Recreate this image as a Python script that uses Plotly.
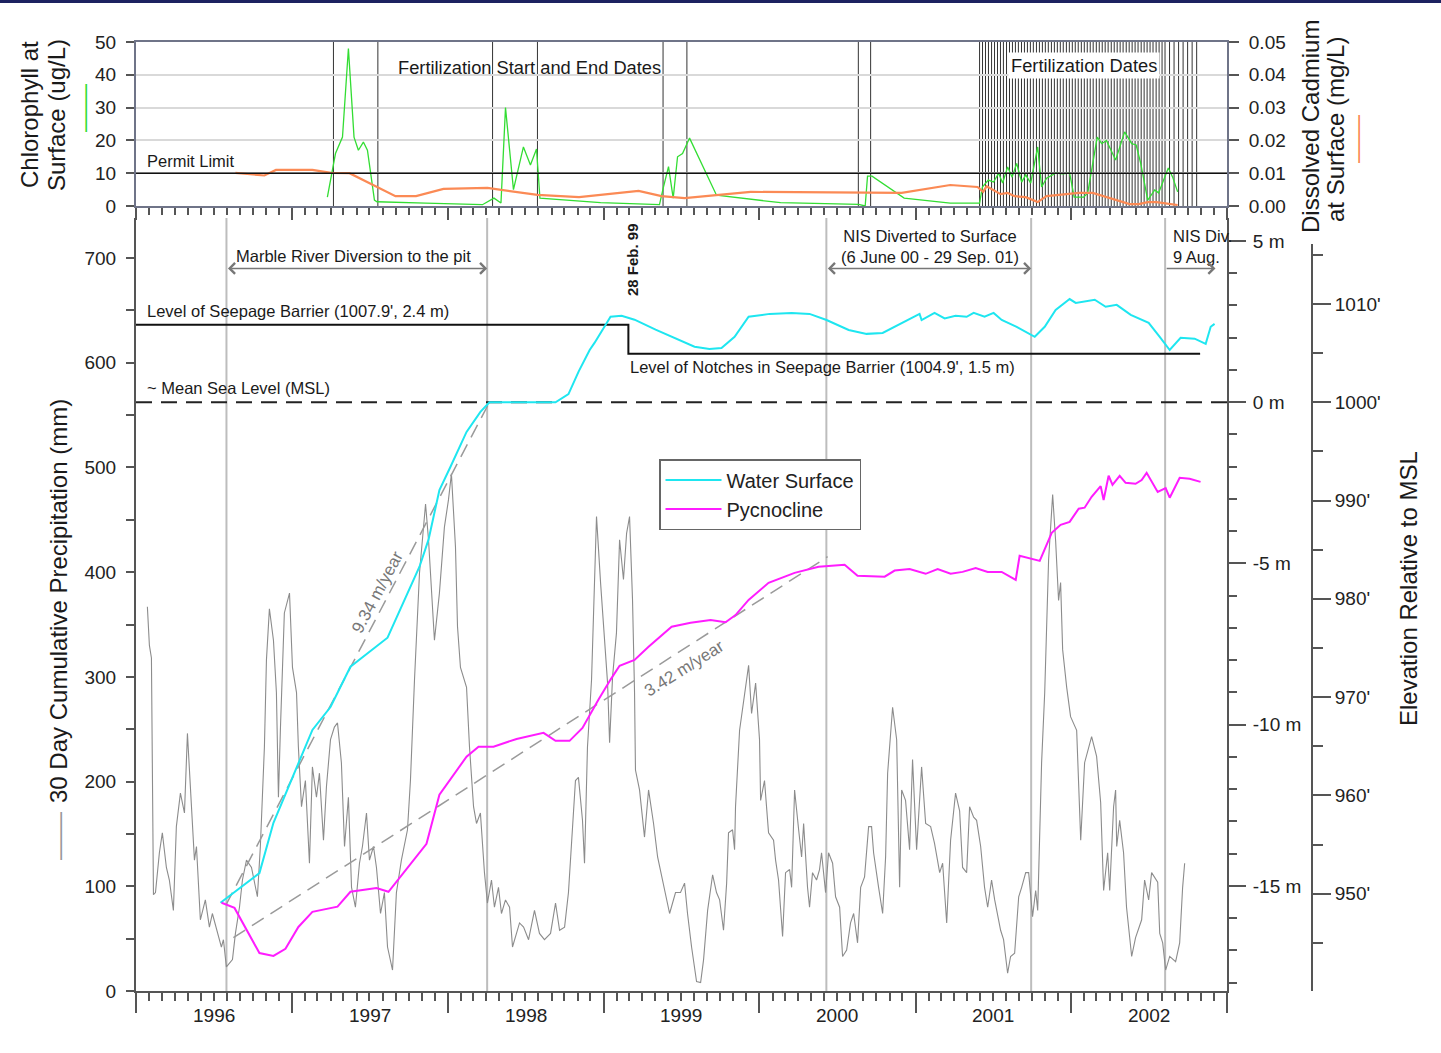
import pandas as pd
import plotly.graph_objects as go

# ======================= DATA =======================
YEAR_LABELS = ["1996", "1997", "1998", "1999", "2000", "2001", "2002"]

# all "_T" arrays: time in years since 1 Jan 1996
PRECIP_T = [0.073, 0.086, 0.099, 0.112, 0.125, 0.150, 0.169, 0.195, 0.214, 0.240, 0.259, 0.285, 0.311, 0.330,
            0.356, 0.375, 0.388, 0.413, 0.445, 0.471, 0.490, 0.522, 0.548, 0.561, 0.580, 0.619, 0.638, 0.664,
            0.683, 0.709, 0.741, 0.779, 0.798, 0.824, 0.837, 0.856, 0.882, 0.901, 0.914, 0.927, 0.952, 0.985,
            1.004, 1.030, 1.042, 1.062, 1.087, 1.113, 1.132, 1.158, 1.177, 1.203, 1.222, 1.248, 1.273, 1.293,
            1.318, 1.338, 1.363, 1.383, 1.408, 1.434, 1.453, 1.479, 1.498, 1.524, 1.543, 1.569, 1.594, 1.614,
            1.646, 1.671, 1.703, 1.742, 1.761, 1.787, 1.800, 1.819, 1.858, 1.877, 1.915, 1.947, 1.979, 2.005,
            2.024, 2.050, 2.063, 2.082, 2.121, 2.140, 2.166, 2.185, 2.210, 2.236, 2.255, 2.281, 2.300, 2.326,
            2.345, 2.371, 2.397, 2.416, 2.461, 2.487, 2.519, 2.557, 2.589, 2.621, 2.660, 2.692, 2.718, 2.750,
            2.775, 2.795, 2.820, 2.839, 2.865, 2.878, 2.897, 2.923, 2.942, 2.955, 2.981, 3.000, 3.026, 3.039,
            3.058, 3.083, 3.103, 3.128, 3.148, 3.167, 3.186, 3.199, 3.205, 3.231, 3.263, 3.289, 3.321, 3.347,
            3.379, 3.424, 3.462, 3.494, 3.520, 3.539, 3.565, 3.597, 3.623, 3.642, 3.668, 3.700, 3.725, 3.745,
            3.770, 3.790, 3.802, 3.828, 3.841, 3.847, 3.873, 3.892, 3.918, 3.931, 3.950, 3.976, 4.001, 4.008,
            4.033, 4.059, 4.091, 4.104, 4.123, 4.149, 4.168, 4.194, 4.207, 4.226, 4.252, 4.271, 4.284, 4.309,
            4.322, 4.341, 4.367, 4.386, 4.399, 4.425, 4.444, 4.470, 4.489, 4.515, 4.534, 4.560, 4.585, 4.605,
            4.630, 4.650, 4.675, 4.701, 4.720, 4.733, 4.765, 4.791, 4.810, 4.823, 4.855, 4.881, 4.900, 4.913,
            4.938, 4.964, 4.983, 5.009, 5.041, 5.067, 5.099, 5.124, 5.157, 5.176, 5.202, 5.227, 5.259, 5.285,
            5.304, 5.330, 5.349, 5.375, 5.394, 5.420, 5.445, 5.465, 5.490, 5.510, 5.548, 5.567, 5.593, 5.612,
            5.638, 5.664, 5.683, 5.709, 5.728, 5.753, 5.773, 5.786, 5.811, 5.831, 5.856, 5.882, 5.901, 5.920,
            5.933, 5.946, 5.972, 5.997, 6.036, 6.062, 6.087, 6.132, 6.164, 6.190, 6.209, 6.235, 6.248, 6.273,
            6.286, 6.293, 6.312, 6.337, 6.356, 6.389, 6.414, 6.453, 6.472, 6.498, 6.517, 6.556, 6.569, 6.588,
            6.607, 6.633, 6.671, 6.697, 6.716, 6.729]
PRECIP_MM = [367, 330, 318, 92, 94, 132, 151, 118, 106, 77, 157, 189, 170, 246,
             176, 125, 138, 68, 87, 61, 74, 55, 42, 49, 23, 30, 55, 80,
             106, 125, 118, 90, 138, 233, 316, 365, 335, 285, 185, 252, 361, 380,
             309, 285, 233, 176, 201, 122, 214, 185, 208, 144, 195, 240, 252, 256,
             218, 138, 185, 99, 80, 122, 138, 170, 125, 138, 118, 74, 94, 42,
             20, 94, 125, 154, 201, 297, 342, 399, 465, 431, 335, 380, 443, 469,
             494, 424, 348, 309, 290, 233, 176, 160, 170, 113, 84, 106, 80, 99,
             74, 87, 80, 42, 65, 61, 49, 77, 55, 49, 55, 84, 58, 61,
             94, 138, 201, 204, 163, 122, 233, 297, 405, 453, 390, 345, 294, 237,
             300, 342, 431, 393, 437, 453, 374, 285, 211, 192, 147, 192, 160, 128,
             106, 74, 94, 94, 103, 74, 42, 9, 8, 30, 77, 111, 94, 87,
             58, 103, 151, 154, 135, 176, 249, 268, 297, 311, 265, 294, 240, 182,
             201, 151, 144, 125, 106, 52, 113, 116, 99, 192, 154, 128, 160, 99,
             80, 113, 106, 116, 132, 94, 132, 122, 90, 80, 33, 39, 65, 74,
             46, 99, 109, 157, 157, 132, 99, 74, 128, 208, 271, 240, 99, 192,
             182, 135, 221, 135, 214, 160, 157, 141, 113, 122, 65, 144, 189, 172,
             118, 113, 176, 166, 163, 138, 99, 80, 106, 87, 58, 49, 17, 33,
             36, 90, 99, 113, 113, 71, 96, 77, 218, 285, 412, 474, 430, 373,
             390, 326, 290, 262, 249, 144, 218, 243, 224, 180, 96, 132, 96, 176,
             192, 138, 163, 132, 80, 33, 51, 68, 106, 87, 113, 104, 55, 46,
             20, 33, 28, 46, 99, 122]

WATER_T = [0.542, 0.792, 0.882, 0.997, 1.087, 1.132, 1.248, 1.338, 1.376, 1.614, 1.703, 1.819, 1.877,
           1.947, 2.018, 2.121, 2.210, 2.268, 2.692, 2.775, 2.840, 2.911, 2.942, 3.045, 3.116, 3.199,
           3.334, 3.449, 3.584, 3.680, 3.757, 3.841, 3.931, 4.066, 4.207, 4.322, 4.431, 4.573, 4.688,
           4.791, 4.913, 5.028, 5.041, 5.124, 5.189, 5.259, 5.330, 5.375, 5.445, 5.503, 5.555, 5.651,
           5.767, 5.831, 5.901, 5.991, 6.030, 6.152, 6.222, 6.293, 6.383, 6.498, 6.569, 6.633, 6.703,
           6.793, 6.864, 6.896, 6.921]
WATER_M = [-15.52, -14.60, -13.04, -11.70, -10.68, -10.16, -9.45, -8.60, -8.20, -7.30, -6.35, -5.10, -4.26,
           -2.72, -2.00, -0.92, -0.30, 0.00, 0.00, 0.25, 0.95, 1.62, 1.84, 2.65, 2.68, 2.56,
           2.25, 2.00, 1.72, 1.65, 1.68, 2.03, 2.65, 2.74, 2.77, 2.74, 2.55, 2.24, 2.12,
           2.15, 2.45, 2.74, 2.55, 2.77, 2.60, 2.68, 2.65, 2.77, 2.65, 2.77, 2.55, 2.34,
           2.03, 2.34, 2.86, 3.20, 3.08, 3.18, 2.96, 3.02, 2.71, 2.46, 2.03, 1.62, 2.00,
           1.97, 1.81, 2.34, 2.43]

PYCNO_T = [0.549, 0.632, 0.792, 0.882, 0.959, 1.042, 1.132, 1.293, 1.376, 1.543, 1.620, 1.755, 1.864,
           1.947, 2.121, 2.198, 2.294, 2.442, 2.615, 2.692, 2.782, 2.865, 2.923, 2.968, 3.045, 3.103,
           3.199, 3.289, 3.437, 3.559, 3.687, 3.783, 3.847, 3.931, 4.059, 4.226, 4.380, 4.547, 4.630,
           4.804, 4.868, 4.964, 5.067, 5.144, 5.227, 5.304, 5.388, 5.465, 5.555, 5.645, 5.670, 5.799,
           5.876, 5.933, 5.991, 6.049, 6.087, 6.132, 6.190, 6.209, 6.241, 6.266, 6.312, 6.350, 6.414,
           6.453, 6.485, 6.556, 6.607, 6.633, 6.697, 6.761, 6.831]
PYCNO_M = [-15.52, -15.68, -17.08, -17.17, -16.95, -16.27, -15.80, -15.64, -15.18, -15.06, -15.18, -14.34, -13.69,
           -12.17, -10.99, -10.68, -10.68, -10.44, -10.25, -10.50, -10.50, -10.10, -9.60, -9.22, -8.60, -8.17,
           -7.99, -7.58, -6.96, -6.84, -6.75, -6.82, -6.60, -6.13, -5.60, -5.29, -5.10, -5.04, -5.38,
           -5.41, -5.22, -5.17, -5.32, -5.17, -5.32, -5.26, -5.14, -5.26, -5.26, -5.51, -4.76, -4.92,
           -4.05, -3.80, -3.71, -3.30, -3.27, -2.93, -2.60, -3.03, -2.28, -2.56, -2.28, -2.50, -2.53,
           -2.41, -2.19, -2.78, -2.66, -2.96, -2.34, -2.37, -2.47]

CHL_T = [1.228, 1.280, 1.325, 1.363, 1.399, 1.427, 1.459, 1.485, 1.530, 1.546, 1.858, 2.223, 2.297, 2.342,
         2.371, 2.422, 2.486, 2.531, 2.570, 2.592, 2.981, 3.359, 3.385, 3.417, 3.447, 3.475, 3.507, 3.552,
         3.725, 4.136, 4.637, 4.679, 4.694, 4.723, 4.929, 5.225, 5.413, 5.431, 5.469, 5.503, 5.535, 5.561,
         5.593, 5.622, 5.651, 5.683, 5.709, 5.741, 5.786, 5.811, 5.843, 5.901, 5.946, 5.991, 6.020, 6.081,
         6.107, 6.168, 6.197, 6.227, 6.286, 6.344, 6.389, 6.418, 6.447, 6.492, 6.537, 6.562, 6.624, 6.652,
         6.684]
CHL_UGL = [2.7, 16, 21, 48, 21, 17, 19.5, 17, 1.8, 1.3, 0.9, 0.4, 2.4, 0.9,
           30, 5, 18, 12.5, 17.4, 2.4, 1.0, 0.4, 5.8, 12, 2.4, 15, 16, 20.7,
           3.3, 1.0, 0.5, 0.0, 9.1, 9.1, 2.4, 0.9, 0.9, 5.8, 7.9, 7.3, 10, 7,
           11.9, 8.8, 13, 7.3, 9.5, 7, 18, 5.8, 8.5, 10, 9.8, 10, 2.7, 2.7,
           4, 21, 19, 20, 14, 22.6, 19, 18.6, 13, 1.8, 4.9, 4, 11.6, 8.8,
           4.3]

CD_T = [0.638, 0.824, 0.898, 1.132, 1.252, 1.370, 1.665, 1.797, 1.973, 2.255, 2.576, 2.843, 3.225, 3.372,
        3.520, 3.751, 3.944, 4.913, 5.225, 5.400, 5.436, 5.458, 5.503, 5.548, 5.593, 5.638, 5.709, 5.786,
        5.843, 5.933, 6.049, 6.139, 6.229, 6.286, 6.376, 6.434, 6.492, 6.549, 6.607, 6.684]
CD_MGL = [0.0101, 0.0093, 0.0110, 0.0110, 0.0101, 0.0100, 0.0030, 0.0030, 0.0052, 0.0055, 0.0034, 0.0027,
          0.0046, 0.0030, 0.0024, 0.0034, 0.0043, 0.0040, 0.0064, 0.0058, 0.0043, 0.0060, 0.0049, 0.0036,
          0.0040, 0.0030, 0.0027, 0.0012, 0.0030, 0.0034, 0.0040, 0.0040, 0.0027, 0.0018, 0.0006, 0.0006,
          0.0012, 0.0012, 0.0009, 0.0003]

# Fertilization start/end dates (1997-2000) and individual fertilization dates (2001-2002)
FERT_START_END_T = [1.267, 1.552, 2.288, 2.576, 3.382, 3.535, 4.635, 4.714]
FERT_DATES_T = [5.413, 5.432, 5.451, 5.470, 5.490, 5.509, 5.528, 5.547, 5.566, 5.586, 5.605, 5.624, 5.643,
                5.662, 5.682, 5.701, 5.720, 5.739, 5.758, 5.778, 5.797, 5.816, 5.835, 5.854, 5.874, 5.893,
                5.912, 5.931, 5.950, 5.970, 5.989, 6.008, 6.027, 6.046, 6.066, 6.085, 6.104, 6.123, 6.142,
                6.162, 6.181, 6.200, 6.219, 6.238, 6.258, 6.277, 6.296, 6.315, 6.334, 6.354, 6.373, 6.392,
                6.411, 6.430, 6.450, 6.469, 6.488, 6.507, 6.526, 6.546, 6.565, 6.584, 6.603, 6.632, 6.661,
                6.690, 6.719, 6.748, 6.777, 6.806]

PERMIT_LIMIT_UGL = 10
MSL_M = 0.0
BARRIER_DATES = ["1996-01-01", "1999-02-28", "1999-02-28", "2002-10-30"]
BARRIER_M = [2.4, 2.4, 1.5, 1.5]

EVENT_DATES = ["1996-07-31", "1998-04-03", "2000-06-06", "2001-09-29", "2002-08-09"]
NIS2_ARROW_END = "2002-12-05"

TREND_FAST_T, TREND_FAST_M = [0.577, 2.268], [-15.59, 0.0]   # 9.34 m/year
TREND_SLOW_T, TREND_SLOW_M = [0.625, 4.438], [-16.60, -4.79]  # 3.42 m/year

PRECIP_TICKS = [0, 100, 200, 300, 400, 500, 600, 700]
M_TICKS = [5, 0, -5, -10, -15]
M_LABELS = ["5 m", "0 m", "-5 m", "-10 m", "-15 m"]
FT_PER_M = 3.28084
FT_TICKS = [940, 950, 960, 970, 980, 990, 1000, 1010]
FT_LABELS = ["940'", "950'", "960'", "970'", "980'", "990'", "1000'", "1010'"]
CHL_TICKS = [0, 10, 20, 30, 40, 50]
CD_TICKS = [0.0, 0.01, 0.02, 0.03, 0.04, 0.05]
CD_LABELS = ["0.00", "0.01", "0.02", "0.03", "0.04", "0.05"]

# ======================= helpers =======================
BASE = pd.Timestamp("1996-01-01")


def t2d(t):
    if isinstance(t, (list, tuple)):
        return [(BASE + pd.Timedelta(days=float(v) * 365.25)).round("s") for v in t]
    return (BASE + pd.Timedelta(days=float(t) * 365.25)).round("s")


FIG_W, FIG_H = 1441, 1053
ML, MR, MT, MB = 136, 20, 42, 62
PW = FIG_W - ML - MR
PH = FIG_H - MT - MB


def px(x):
    return (x - ML) / PW


def py(y):
    return 1 - (y - MT) / PH


XDOM = [0, px(1227)]
XRANGE = ["1996-01-01", "2003-01-01"]
YEAR_STARTS = [f"{int(y)}-01-01" for y in YEAR_LABELS] + [f"{int(YEAR_LABELS[-1]) + 1}-01-01"]
YEAR_MIDS = [f"{y}-07-02" for y in YEAR_LABELS]
M_RANGE = [-18.256, 5.713]
M_PER_PX = (M_RANGE[1] - M_RANGE[0]) / (991 - 218)
FT_TOP_M = M_RANGE[1] - (244 - 218) * M_PER_PX          # feet axis drawn from 244 px down
FT_RANGE = [1000 + M_RANGE[0] * FT_PER_M, 1000 + FT_TOP_M * FT_PER_M]

FONT = "Liberation Sans, Arial, Helvetica, sans-serif"
AX = "#555555"
GREEN = "#33dd33"
ORANGE = "#fb8a55"
CYAN = "#1ee6f0"
MAGENTA = "#ff1cff"
PRECIP_GRAY = "#8c8c8c"

fig = go.Figure()

# ---- bottom panel traces ----
fig.add_trace(go.Scatter(x=t2d(PRECIP_T), y=PRECIP_MM, xaxis="x2", yaxis="y3", mode="lines",
                         line=dict(color=PRECIP_GRAY, width=1.1), showlegend=False, hoverinfo="skip"))
fig.add_trace(go.Scatter(x=t2d(TREND_FAST_T), y=TREND_FAST_M, xaxis="x2", yaxis="y4", mode="lines",
                         line=dict(color="#9a9a9a", width=1.5, dash="14px,8px"), showlegend=False))
fig.add_trace(go.Scatter(x=t2d(TREND_SLOW_T), y=TREND_SLOW_M, xaxis="x2", yaxis="y4", mode="lines",
                         line=dict(color="#9a9a9a", width=1.5, dash="14px,8px"), showlegend=False))
fig.add_trace(go.Scatter(x=BARRIER_DATES, y=BARRIER_M, xaxis="x2", yaxis="y4", mode="lines",
                         line=dict(color="#111", width=2), showlegend=False))
fig.add_trace(go.Scatter(x=t2d(WATER_T), y=WATER_M, xaxis="x2", yaxis="y4", mode="lines",
                         name="Water Surface", line=dict(color=CYAN, width=2)))
fig.add_trace(go.Scatter(x=t2d(PYCNO_T), y=PYCNO_M, xaxis="x2", yaxis="y4", mode="lines",
                         name="Pycnocline", line=dict(color=MAGENTA, width=2)))
# empty trace so that the feet axis is rendered
fig.add_trace(go.Scatter(x=[], y=[], xaxis="x2", yaxis="y5", mode="lines", showlegend=False,
                         hoverinfo="skip"))

# ---- top panel traces ----
fig.add_trace(go.Scatter(x=t2d(CHL_T), y=CHL_UGL, xaxis="x", yaxis="y", mode="lines",
                         line=dict(color=GREEN, width=1.3), showlegend=False))
fig.add_trace(go.Scatter(x=t2d(CD_T), y=CD_MGL, xaxis="x", yaxis="y2", mode="lines",
                         line=dict(color=ORANGE, width=2.2), showlegend=False))

shapes = []
for t in FERT_START_END_T + FERT_DATES_T:
    d = t2d(t)
    shapes.append(dict(type="line", xref="x", yref="y domain", x0=d, x1=d, y0=0, y1=1,
                       line=dict(color="#333", width=1), layer="below"))
shapes.append(dict(type="line", xref="x domain", yref="y", x0=0, x1=1, y0=PERMIT_LIMIT_UGL,
                   y1=PERMIT_LIMIT_UGL, line=dict(color="#111", width=1.5), layer="above"))
for d in EVENT_DATES:
    shapes.append(dict(type="line", xref="x2", yref="y3 domain", x0=d, x1=d, y0=0, y1=1,
                       line=dict(color="#bdbdbd", width=2), layer="below"))
shapes.append(dict(type="line", xref="x2 domain", yref="y4", x0=0, x1=1, y0=MSL_M, y1=MSL_M,
                   line=dict(color="#222", width=2, dash="16px,9px"), layer="below"))
shapes.append(dict(type="rect", xref="paper", yref="paper", x0=px(0), x1=px(FIG_W), y0=py(3), y1=py(0),
                   fillcolor="#1c2260", line=dict(width=0)))

ann = []


def text(x, y, s, size=16.5, xanchor="left", color="#1a1a1a", **kw):
    d = dict(x=px(x), y=py(y), xref="paper", yref="paper", text=s, showarrow=False,
             xanchor=xanchor, yanchor="middle", font=dict(size=size, color=color, family=FONT))
    d.update(kw)
    ann.append(d)


for lab, mid in zip(YEAR_LABELS, YEAR_MIDS):
    ann.append(dict(x=mid, y=py(1016), xref="x2", yref="paper", text=lab, showarrow=False,
                    xanchor="center", yanchor="middle", font=dict(size=19, color="#222", family=FONT)))

text(529, 67, "Fertilization Start and End Dates", 18.3, "center")
text(1084, 65, "Fertilization Dates", 18.3, "center", bgcolor="white", borderpad=2)
text(145, 161, "Permit Limit", 16.5)
text(353, 256, "Marble River Diversion to the pit", 16.5, "center")
text(632, 260, "<b>28 Feb. 99</b>", 15, "center", textangle=-90)
text(145, 311, "Level of Seepage Barrier (1007.9', 2.4 m)", 16.5)
text(145, 388, "~ Mean Sea Level (MSL)", 16.5)
text(628, 367, "Level of Notches in Seepage Barrier (1004.9', 1.5 m)", 16.5)
text(930, 246, "NIS Diverted to Surface<br>(6 June 00 - 29 Sep. 01)", 16.5, "center")
text(1171, 246, "NIS Div.<br>9 Aug.", 16.5, "left", align="left")
text(377, 592, "9.34 m/year", 17, "center", color="#777", textangle=-62)
text(684, 668, "3.42 m/year", 17, "center", color="#777", textangle=-32)

# axis titles
TITLE = 24
text(30, 115, "Chlorophyll at", TITLE, "center", textangle=-90)
text(57, 115, "Surface (ug/L)", TITLE, "center", textangle=-90)
text(83, 108, "——", TITLE, "center", color=GREEN, textangle=-90)
text(1310, 127, "Dissolved Cadmium", TITLE, "center", textangle=-90)
text(1335, 130, "at Surface (mg/L)", TITLE, "center", textangle=-90)
text(1357, 139, "——", TITLE, "center", color=ORANGE, textangle=-90)
text(58, 601, "30 Day Cumulative Precipitation (mm)", TITLE, "center", textangle=-90)
text(58, 836, "——", TITLE, "center", color="#999", textangle=-90)
text(1408, 589, "Elevation Relative to MSL", TITLE, "center", textangle=-90)

ARROW_M = 4.15
for a, b, both in [(EVENT_DATES[0], EVENT_DATES[1], True), (EVENT_DATES[2], EVENT_DATES[3], True),
                   (EVENT_DATES[4], NIS2_ARROW_END, False)]:
    ann.append(dict(x=b, y=ARROW_M, ax=a, ay=ARROW_M, xref="x2", yref="y4", axref="x2", ayref="y4",
                    text="", showarrow=True, arrowhead=4, startarrowhead=4, arrowsize=1.4, startarrowsize=1.4,
                    arrowside="end+start" if both else "end", arrowcolor="#777", arrowwidth=1.5))

tickfont = dict(size=19, color="#222", family=FONT)
minor_x = dict(dtick="M1", tick0="1996-01-01", ticks="outside", ticklen=8, tickwidth=1.5, tickcolor=AX,
               showgrid=False)

fig.update_layout(
    width=FIG_W, height=FIG_H,
    margin=dict(l=ML, r=MR, t=MT, b=MB),
    paper_bgcolor="white", plot_bgcolor="rgba(0,0,0,0)",
    font=dict(family=FONT, color="#222", size=17),
    shapes=shapes, annotations=ann,
    legend=dict(x=px(659), y=py(459), xanchor="left", yanchor="top", bordercolor="#666", borderwidth=1.5,
                bgcolor="white", font=dict(size=20, color="#222", family=FONT), itemwidth=56),
    xaxis=dict(domain=XDOM, anchor="y", type="date", range=XRANGE, tickmode="array", tickvals=YEAR_STARTS,
               ticks="outside", ticklen=12, tickwidth=1.5, tickcolor=AX, showticklabels=False,
               minor=dict(minor_x, ticklen=7), showline=True, linecolor="#6f7488", linewidth=2, mirror=True,
               showgrid=False, zeroline=False),
    yaxis=dict(domain=[py(206), 1], range=[0, 50], tickmode="array", tickvals=CHL_TICKS, ticks="outside",
               ticklen=8, tickwidth=1.5, tickcolor=AX, showline=True, linecolor="#6f7488", linewidth=2,
               showgrid=True, gridcolor="#d9d9d9", gridwidth=1.5, zeroline=False, tickfont=tickfont,
               ticklabelstandoff=6),
    yaxis2=dict(overlaying="y", side="right", anchor="x", range=[0, 0.05], tickmode="array",
                tickvals=CD_TICKS, ticktext=CD_LABELS, ticks="outside", ticklen=10, tickwidth=1.5,
                tickcolor=AX, showline=True, linecolor="#6f7488", linewidth=2, showgrid=False, zeroline=False,
                tickfont=tickfont, ticklabelstandoff=6),
    xaxis2=dict(domain=XDOM, anchor="y3", type="date", range=XRANGE, tickmode="array", tickvals=YEAR_STARTS,
                ticks="outside", ticklen=20, tickwidth=1.5, tickcolor=AX, showticklabels=False,
                minor=minor_x, showline=True, linecolor=AX, linewidth=2, showgrid=False, zeroline=False),
    yaxis3=dict(domain=[0, py(218)], range=[0, 738.2], tickmode="array", tickvals=PRECIP_TICKS,
                ticks="outside", ticklen=8, tickwidth=1.5, tickcolor=AX,
                minor=dict(dtick=50, ticks="outside", ticklen=8, tickwidth=1.5, tickcolor=AX, showgrid=False),
                showline=True, linecolor=AX, linewidth=2, showgrid=False, zeroline=False, tickfont=tickfont,
                ticklabelstandoff=6),
    yaxis4=dict(overlaying="y3", side="right", anchor="x2", range=M_RANGE, tickmode="array",
                tickvals=M_TICKS, ticktext=M_LABELS, ticks="outside", ticklen=17, tickwidth=1.5, tickcolor=AX,
                minor=dict(dtick=1, ticks="outside", ticklen=8, tickwidth=1.5, tickcolor=AX, showgrid=False),
                showline=True, linecolor=AX, linewidth=2, showgrid=False, zeroline=False,
                tickfont=tickfont, ticklabelstandoff=3),
    yaxis5=dict(anchor="free", position=px(1312), side="right", domain=[0, py(244)], range=FT_RANGE,
                tickmode="array", tickvals=FT_TICKS, ticktext=FT_LABELS, ticks="outside", ticklen=18,
                tickwidth=1.5, tickcolor=AX,
                minor=dict(dtick=5, ticks="outside", ticklen=10, tickwidth=1.5, tickcolor=AX, showgrid=False),
                showline=True, linecolor=AX, linewidth=2, showgrid=False, zeroline=False,
                tickfont=tickfont),
)

fig.write_html("out.html")
